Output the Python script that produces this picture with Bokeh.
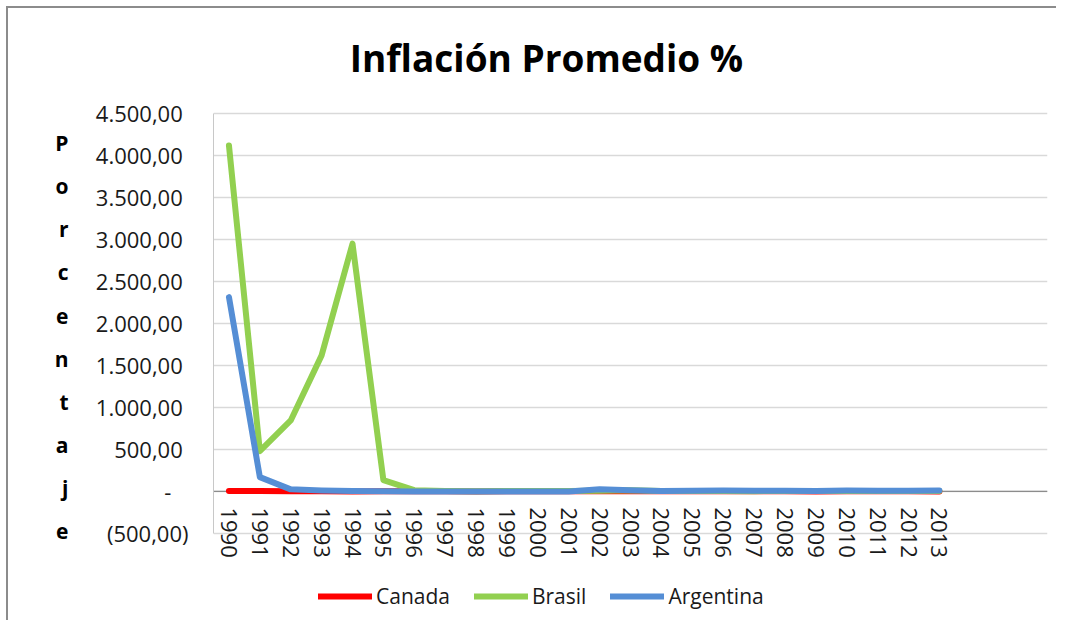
from bokeh.plotting import figure
from bokeh.models import Range1d, FixedTicker, Legend, LegendItem, Span, LinearAxis, Label
from bokeh.embed import file_html
from bokeh.resources import INLINE

# ---------------- data ----------------
years = [str(y) for y in range(1990, 2014)]
canada = [4.8, 5.6, 1.5, 1.8, 0.2, 2.2, 1.6, 1.6, 1.0, 1.7, 2.7, 2.5,
          2.3, 2.8, 1.9, 2.2, 2.0, 2.1, 2.4, 0.3, 1.8, 2.9, 1.5, 0.9]
brasil = [4120, 480, 845, 1620, 2950, 135, 16, 6.9, 3.2, 4.9, 7.0, 6.8,
          8.4, 14.7, 6.6, 6.9, 4.2, 3.6, 5.7, 4.9, 5.0, 6.6, 5.4, 6.2]
argentina = [2314, 171, 25, 10.6, 4.2, 3.4, 0.2, 0.5, 0.9, -1.2, -0.9, -1.1,
             25.9, 13.4, 4.4, 9.6, 10.9, 8.8, 8.6, 6.3, 10.5, 9.8, 10.0, 10.6]
y_ticks = [-500, 0, 500, 1000, 1500, 2000, 2500, 3000, 3500, 4000, 4500]
y_tick_labels = ["(500,00)", "-", "500,00", "1.000,00", "1.500,00", "2.000,00",
                 "2.500,00", "3.000,00", "3.500,00", "4.000,00", "4.500,00"]
title_text = "Inflación Promedio %"
y_title = "Porcentaje"
n_slots = 27  # category slots on the axis (last ones empty)

FONT = "Open Sans"
TXT = "#1a1a1a"
NB = "\u00a0"

x = list(range(len(years)))

# the frame spans the whole height so that title, year labels and legend
# (all drawn inside it) are not clipped; the value axis is bounded to -500..4500
p = figure(width=1050, height=614, output_backend="svg", toolbar_location=None,
           x_range=Range1d(-0.5, n_slots - 0.5), y_range=Range1d(-1560, 5750),
           min_border_left=205, min_border_right=11, min_border_top=0,
           min_border_bottom=0)
p.outline_line_color = None
p.styles = {"margin-left": "6px", "margin-top": "6px",
            "border-top": "2px solid #8c8c8c", "border-left": "2px solid #8c8c8c"}

p.add_layout(Label(x=10.28, y=5167, text=title_text, text_align="center",
                   text_baseline="middle", text_font=FONT, text_font_style="bold",
                   text_font_size="37px", text_color="#000000"))

zero = Span(location=0, dimension="width", line_color="#8c8c8c", line_width=1.2,
            level="underlay")
p.add_layout(zero)

r_ca = p.line(x, canada, line_color="#ff0000", line_width=6, line_cap="round", line_join="round")
r_br = p.line(x, brasil, line_color="#92d050", line_width=6, line_cap="round", line_join="round")
r_ar = p.line(x, argentina, line_color="#558ed5", line_width=6, line_cap="round", line_join="round")

# y axis
p.yaxis.bounds = (y_ticks[0], y_ticks[-1])
p.yaxis.ticker = FixedTicker(ticks=y_ticks)
overrides = {}
for t, lab in zip(y_ticks, y_tick_labels):
    if lab.startswith("("):
        overrides[t] = lab
    elif lab == "-":
        overrides[t] = lab + NB * 3
    else:
        overrides[t] = lab + NB
p.yaxis.major_label_overrides = overrides
p.yaxis.major_label_text_font = FONT
p.yaxis.major_label_text_font_size = "22px"
p.yaxis.major_label_text_color = TXT
p.yaxis.major_label_standoff = 19
p.yaxis.axis_line_color = "#c8c8c8"
p.yaxis.major_tick_line_color = None
p.yaxis.minor_tick_line_color = None

# stacked y title: one bold letter per row, drawn by a bare extra axis
letter_pos = [4143 - 512 * k for k in range(len(y_title))]
title_axis = LinearAxis(ticker=FixedTicker(ticks=letter_pos),
                        major_label_overrides={v: ch for v, ch in zip(letter_pos, y_title)},
                        axis_line_color=None, major_tick_line_color=None,
                        minor_tick_line_color=None, major_label_standoff=18,
                        major_label_text_font=FONT, major_label_text_font_style="bold",
                        major_label_text_font_size="21px",
                        major_label_text_color="#000000")
p.add_layout(title_axis, "left")

# x axis placed on the zero line
p.xaxis.fixed_location = 0
p.xaxis.ticker = FixedTicker(ticks=x)
p.xaxis.major_label_overrides = {i: y for i, y in zip(x, years)}
p.xaxis.major_label_orientation = "vertical"
p.xaxis.major_label_text_font = FONT
p.xaxis.major_label_text_font_size = "22px"
p.xaxis.major_label_text_color = TXT
p.xaxis.major_label_standoff = 10
p.xaxis.axis_line_color = None
p.xaxis.major_tick_line_color = None
p.xaxis.minor_tick_line_color = None

p.xgrid.grid_line_color = None
p.ygrid.ticker = FixedTicker(ticks=y_ticks)
p.ygrid.grid_line_color = "#d9d9d9"
p.ygrid.grid_line_width = 1.5

legend = Legend(items=[LegendItem(label="Canada", renderers=[r_ca]),
                       LegendItem(label="Brasil", renderers=[r_br]),
                       LegendItem(label="Argentina", renderers=[r_ar])],
                orientation="horizontal", location=(105, 12),
                glyph_width=54, glyph_height=20, label_standoff=4, spacing=24,
                padding=0, margin=0, border_line_color=None,
                background_fill_alpha=0, label_text_font=FONT,
                label_text_font_size="21px", label_text_color=TXT)
p.add_layout(legend)

open("out.html", "w").write(file_html(p, INLINE))
